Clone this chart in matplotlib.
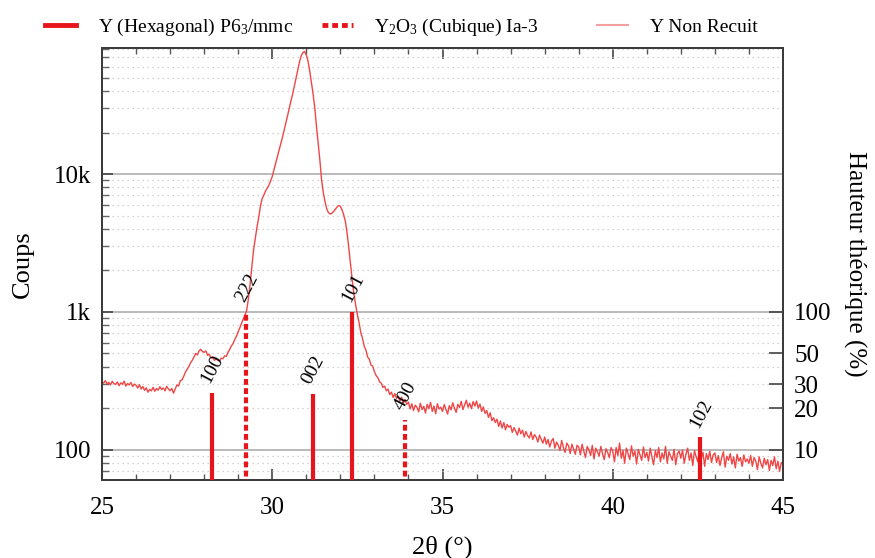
import numpy as np
import matplotlib
matplotlib.use("Agg")
import matplotlib.pyplot as plt
from matplotlib.ticker import FixedLocator, NullFormatter, NullLocator
from matplotlib.lines import Line2D

plt.rcParams['font.family'] = ['Liberation Serif', 'DejaVu Serif']
plt.rcParams['mathtext.fontset'] = 'custom'
plt.rcParams['mathtext.rm'] = 'Liberation Serif'
plt.rcParams['mathtext.it'] = 'Liberation Serif:italic'

# --- scan: 25 -> 45 deg, step 0.05 ---
scan_start = 25.0
scan_step = 0.05
counts = [
    312, 305, 318, 300, 309, 296, 314, 303, 298, 311, 292, 306, 299, 315, 290, 303, 296, 308, 288, 300,
    294, 281, 297, 276, 288, 270, 282, 262, 275, 268, 284, 266, 279, 271, 287, 274, 281, 268, 289, 277,
    268, 279, 258, 276, 296, 290, 318, 322, 341, 366, 384, 401, 428, 446, 471, 500, 488, 522, 536, 517,
    510, 522, 485, 494, 462, 471, 446, 455, 448, 441, 462, 458, 480, 476, 510, 535, 568, 590, 632, 668,
    720, 770, 830, 890, 950, 1030, 1250, 1600, 2100, 2800, 3400, 4100, 4800, 5800, 6600, 7000, 7500, 7900, 8300, 8900,
    9600, 10700, 12000, 13300, 14800, 16500, 18500, 20800, 23500, 26500, 30000, 34000, 38000, 43500, 50000, 57000, 65000, 72000, 76000, 77500,
    73000, 66000, 56000, 46000, 38000, 30000, 22000, 16500, 12500, 9000, 7300, 6300, 5600, 5250, 5130, 5200, 5350, 5550, 5750, 5900,
    5850, 5500, 5050, 4500, 3700, 2900, 2200, 1700, 1350, 1120, 960, 835, 710, 645, 565, 530, 472, 455, 412, 405,
    370, 346, 335, 312, 305, 284, 290, 268, 276, 252, 262, 240, 256, 236, 245, 226, 241, 219, 232, 214,
    222, 198, 216, 193, 211, 203, 189, 218, 196, 207, 185, 214, 199, 221, 190, 208, 183, 216, 198, 204,
    190, 213, 197, 182, 209, 195, 220, 201, 187, 214, 203, 225, 196, 212, 229, 204, 218, 199, 224, 208,
    226, 201, 215, 190, 205, 184, 193, 172, 186, 163, 171, 158, 167, 148, 162, 144, 158, 140, 153, 146,
    150, 134, 145, 137, 128, 144, 131, 139, 124, 136, 127, 122, 135, 119, 129, 124, 114, 128, 119, 112,
    124, 110, 119, 105, 116, 121, 103, 114, 108, 99, 117, 104, 96, 112, 107, 94, 110, 101, 93, 108,
    105, 92, 110, 98, 88, 106, 100, 91, 108, 86, 103, 97, 90, 106, 94, 85, 102, 96, 88, 104,
    98, 82, 104, 91, 112, 87, 99, 80, 103, 94, 85, 107, 90, 98, 79, 101, 92, 84, 105, 88,
    96, 83, 103, 89, 78, 99, 88, 104, 82, 95, 86, 106, 80, 97, 90, 84, 101, 78, 94, 98,
    87, 100, 80, 93, 103, 84, 95, 77, 99, 89, 82, 102, 86, 96, 76, 94, 85, 98, 81, 92,
    95, 81, 91, 77, 88, 97, 75, 90, 84, 94, 79, 89, 74, 93, 83, 88, 76, 92, 82, 86,
    80, 91, 76, 88, 83, 72, 89, 80, 74, 87, 78, 85, 71, 84, 77, 89, 73, 83, 70, 81,
    79,
]
two_theta = scan_start + scan_step * np.arange(len(counts))

# reference patterns (position, relative height %)
hex_pos = [28.22, 31.19, 32.35, 42.57]
hex_h = [26, 25.5, 100, 12.3]
hex_hkl = ["100", "002", "101", "102"]

cub_pos = [29.22, 33.90]
cub_h = [100, 16.5]
cub_hkl = ["222", "400"]

red = "#e8141c"
curve_col = "#f04646"

fig = plt.figure(figsize=(8.75, 5.58), dpi=100)
ax = fig.add_axes([102/875, 78/558, 681/875, 432/558])
ax2 = ax.twinx()

ax.plot(two_theta, counts, color=curve_col, lw=1.0, zorder=3)
ax.set_yscale("log")
ax.set_xlim(25, 45)
ax.set_ylim(60.5, 82000)
ax.set_yticks([100, 1000, 10000], ["100", "1k", "10k"])
ax.yaxis.set_minor_locator(FixedLocator(
    [m * 10**e for e in (1, 2, 3, 4) for m in range(2, 10)]))
ax.yaxis.set_minor_formatter(NullFormatter())
ax.set_xticks([25, 30, 35, 40, 45])
ax.xaxis.set_minor_locator(FixedLocator(np.arange(25, 46, 1)))

ax.grid(True, which="major", axis="y", color="#b4b4b4", lw=1.3)
ax.grid(True, which="minor", axis="y", color="#c4c4c4", lw=0.9, linestyle=(0, (1, 3)))
ax.set_axisbelow(True)

ax.tick_params(axis="both", which="major", direction="in", labelsize=18, color="#444444")
ax.tick_params(axis="y", which="major", length=8, width=1.2, pad=8, left=True, right=False)
ax.tick_params(axis="y", which="minor", direction="in", length=5, width=1, color="#666666", right=False)
ax.tick_params(axis="x", which="major", length=8, width=1.2, pad=12, top=True)
ax.tick_params(axis="x", which="minor", direction="in", length=4, width=1, color="#555555", top=True)

ax.set_xlabel("2θ (°)", fontsize=19, labelpad=12)
ax.set_ylabel("Coups", fontsize=19, labelpad=14)

# right axis: theoretical heights
ax2.set_yscale("log")
ax2.set_ylim(6.05, 8200)
ax2.set_yticks([10, 20, 30, 50, 100], ["10", "20", "30", "50", "100"])
ax2.yaxis.set_minor_locator(NullLocator())
ax2.tick_params(axis="y", direction="in", length=10, width=1.2, labelsize=18, pad=8, color="#444444")
ax2.set_ylabel("Hauteur théorique (%)", fontsize=18, rotation=270, va="bottom", labelpad=8)

ax2.vlines(hex_pos, 1, hex_h, color=red, lw=3, zorder=4)
ax2.vlines(cub_pos, 1, cub_h, color=red, lw=3, linestyles=[(0, (1.4, 0.8))], zorder=4)
for x, h, t in list(zip(hex_pos, hex_h, hex_hkl)) + list(zip(cub_pos, cub_h, cub_hkl)):
    ax2.text(x - 0.06, h * 1.16, t, rotation=62, rotation_mode="anchor",
             ha="left", va="baseline", fontsize=14, zorder=5)

for a in (ax, ax2):
    for s in a.spines.values():
        s.set_color("#3c3c3c")
        s.set_linewidth(1.4)

# legend, three evenly spaced entries above the plot
handles = [
    Line2D([], [], color=red, lw=3.5),
    Line2D([], [], color=red, lw=3.5, linestyle=(0, (1.2, 0.8))),
    Line2D([], [], color="#f4a0a0", lw=1.5),
]
names = ["Y (Hexagonal) P6$_3$/mmc", "Y$_2$O$_3$ (Cubique) Ia-3", "Y Non Recuit"]
for hnd, nm, x0 in zip(handles, names, [45/875, 322/875, 597/875]):
    fig.legend([hnd], [nm], loc="center left", bbox_to_anchor=(x0, 1 - 27/558),
               frameon=False, fontsize=14, handlelength=1.6, handletextpad=1.1,
               borderpad=0, borderaxespad=0)

fig.savefig("out.png", dpi=100)
